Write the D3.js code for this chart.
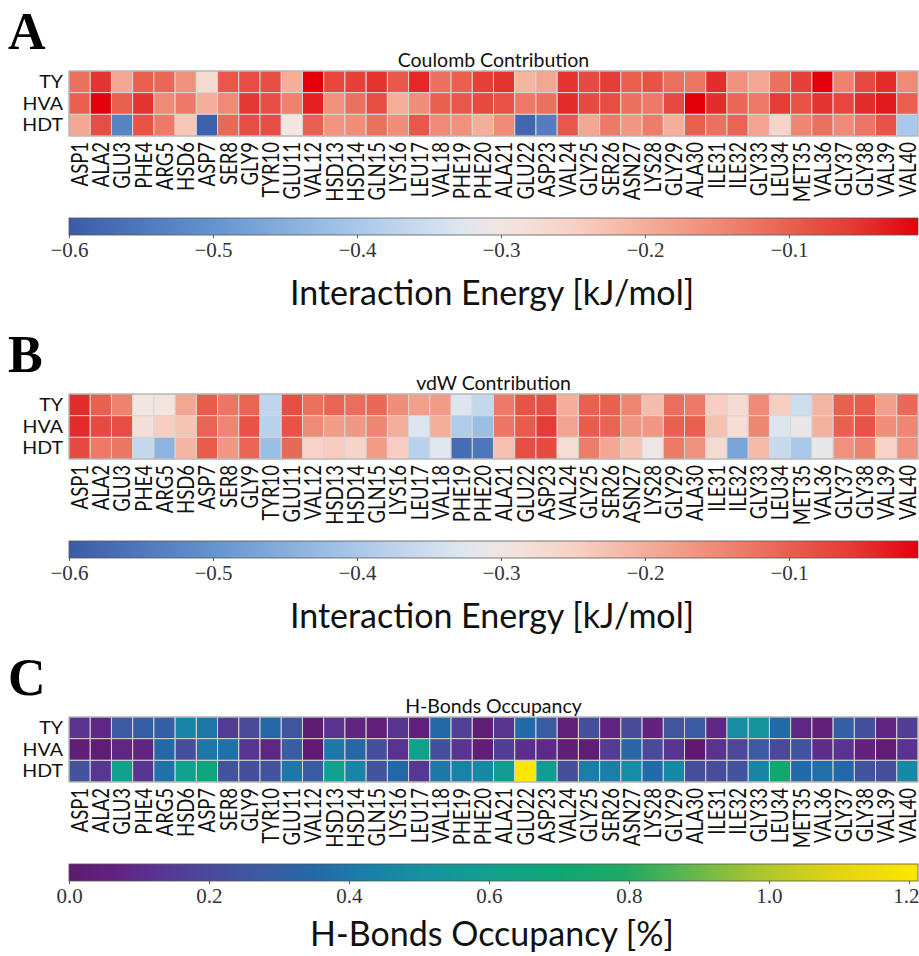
<!DOCTYPE html>
<html lang="en">
<head>
<meta charset="UTF-8">
<title>Interaction heatmaps</title>
<script src="https://cdn.jsdelivr.net/npm/d3@7"></script>
<style>
  body { margin: 0; background: white; }
  .sans { font-family: Lato, "DejaVu Sans", sans-serif; fill: #111; }
  .serif { font-family: "Liberation Serif", "DejaVu Serif", serif; }
</style>
</head>
<body>
<svg id="fig" width="919" height="956"></svg>
<script>
// residues along x, ligands along y
const residues = ["ASP1","ALA2","GLU3","PHE4","ARG5","HSD6","ASP7","SER8","GLY9","TYR10",
  "GLU11","VAL12","HSD13","HSD14","GLN15","LYS16","LEU17","VAL18","PHE19","PHE20",
  "ALA21","GLU22","ASP23","VAL24","GLY25","SER26","ASN27","LYS28","GLY29","ALA30",
  "ILE31","ILE32","GLY33","LEU34","MET35","VAL36","GLY37","GLY38","VAL39","VAL40"];
const ligands = ["TY", "HVA", "HDT"];

// Coulomb contribution [kJ/mol]
const coulombTY = [-0.12,-0.05,-0.19,-0.10,-0.11,-0.16,-0.27,-0.09,-0.08,-0.08,
  -0.20,-0.01,-0.07,-0.065,-0.05,-0.09,-0.04,-0.12,-0.10,-0.065,
  -0.05,-0.21,-0.19,-0.05,-0.075,-0.06,-0.10,-0.085,-0.12,-0.125,
  -0.045,-0.16,-0.19,-0.12,-0.065,-0.01,-0.14,-0.075,-0.045,-0.15];
const coulombHVA = [-0.10,-0.01,-0.10,-0.05,-0.15,-0.13,-0.20,-0.15,-0.055,-0.08,
  -0.14,-0.035,-0.16,-0.12,-0.08,-0.20,-0.155,-0.10,-0.09,-0.075,
  -0.085,-0.13,-0.12,-0.045,-0.075,-0.08,-0.12,-0.13,-0.075,-0.01,
  -0.045,-0.11,-0.13,-0.06,-0.085,-0.05,-0.07,-0.045,-0.03,-0.10];
const coulombHDT = [-0.19,-0.08,-0.53,-0.085,-0.13,-0.235,-0.59,-0.11,-0.08,-0.08,
  -0.30,-0.10,-0.165,-0.155,-0.12,-0.155,-0.09,-0.15,-0.16,-0.20,
  -0.15,-0.58,-0.54,-0.09,-0.19,-0.13,-0.17,-0.135,-0.20,-0.10,
  -0.12,-0.105,-0.185,-0.255,-0.145,-0.12,-0.15,-0.125,-0.085,-0.40];

// vdW contribution [kJ/mol]
const vdwTY = [-0.045,-0.10,-0.14,-0.30,-0.295,-0.19,-0.095,-0.125,-0.105,-0.37,
  -0.08,-0.12,-0.105,-0.115,-0.11,-0.155,-0.18,-0.175,-0.33,-0.365,
  -0.13,-0.085,-0.08,-0.20,-0.10,-0.10,-0.145,-0.22,-0.115,-0.13,
  -0.245,-0.27,-0.15,-0.245,-0.35,-0.21,-0.10,-0.095,-0.18,-0.11];
const vdwHVA = [-0.045,-0.075,-0.08,-0.28,-0.245,-0.23,-0.105,-0.145,-0.085,-0.38,
  -0.085,-0.15,-0.175,-0.17,-0.145,-0.20,-0.33,-0.20,-0.39,-0.42,
  -0.125,-0.095,-0.06,-0.185,-0.095,-0.105,-0.165,-0.17,-0.10,-0.10,
  -0.225,-0.275,-0.145,-0.33,-0.31,-0.205,-0.10,-0.085,-0.155,-0.145];
const vdwHDT = [-0.075,-0.13,-0.125,-0.365,-0.44,-0.21,-0.095,-0.17,-0.105,-0.42,
  -0.11,-0.25,-0.24,-0.255,-0.175,-0.245,-0.38,-0.325,-0.57,-0.55,
  -0.225,-0.08,-0.075,-0.275,-0.135,-0.19,-0.23,-0.305,-0.13,-0.16,
  -0.27,-0.47,-0.215,-0.36,-0.40,-0.315,-0.16,-0.14,-0.25,-0.16];

// H-bond occupancy [%]
const hbondTY = [0.12,0.08,0.27,0.30,0.30,0.45,0.40,0.15,0.20,0.35,
  0.25,0.01,0.12,0.07,0.04,0.13,0.04,0.35,0.17,0.02,
  0.12,0.36,0.28,0.04,0.22,0.07,0.20,0.06,0.25,0.28,
  0.08,0.48,0.52,0.36,0.08,0.04,0.30,0.22,0.07,0.16];
const hbondHVA = [0.03,0.02,0.08,0.07,0.35,0.22,0.40,0.38,0.13,0.08,
  0.28,0.01,0.40,0.34,0.22,0.12,0.62,0.22,0.13,0.03,
  0.16,0.11,0.09,0.03,0.02,0.15,0.33,0.20,0.13,0.00,
  0.12,0.19,0.27,0.19,0.24,0.10,0.12,0.06,0.02,0.12];
const hbondHDT = [0.23,0.14,0.60,0.13,0.38,0.60,0.67,0.24,0.22,0.24,
  0.40,0.28,0.60,0.45,0.24,0.35,0.14,0.40,0.44,0.47,
  0.58,1.213,0.58,0.22,0.42,0.42,0.48,0.36,0.47,0.22,
  0.21,0.24,0.45,0.72,0.36,0.37,0.35,0.24,0.22,0.47];

// colorbar ticks
const energyTicks = [-0.6, -0.5, -0.4, -0.3, -0.2, -0.1];
const hbondTicks = [0.0, 0.2, 0.4, 0.6, 0.8, 1.0, 1.2];

// colour maps
const energyColor = d3.scaleLinear()
  .domain([-0.6, -0.5, -0.4, -0.33, -0.3, -0.25, -0.2, -0.15, -0.1, -0.05, -0.0104])
  .range(["#3a5ba8", "#6394cf", "#a9c8ea", "#dde6f0", "#f1e6e2", "#f8d2c6",
          "#f4ae9a", "#ef8a76", "#e9604f", "#e43430", "#e3000b"])
  .clamp(true);
// viridis as it looks in the figure (a bit lighter than the stock one)
const hbondColor = d3.scaleLinear()
  .domain([0, 0.06, 0.12, 0.2, 0.28, 0.35, 0.42, 0.5, 0.6, 0.7, 0.8, 0.9, 1.0, 1.1, 1.213])
  .range(["#5f1a70", "#62227e", "#5a3290", "#4a4a9a", "#3a5ca2", "#2468a8", "#1a7ea8",
          "#1690a2", "#12a08e", "#0fa674", "#22aa62", "#6cb84a", "#b4c82a", "#e4d412", "#fde600"])
  .clamp(true);

const svg = d3.select("#fig");
svg.append("rect").attr("width", 919).attr("height", 956).attr("fill", "white");

const x = d3.scaleBand().domain(residues).range([69, 918]);
const y = d3.scaleBand().domain(ligands).range([71, 136]);

function drawPanel(top, letter, title, rows, color, domain, ticks, fmt, label, labelY, id) {
  const g = svg.append("g").attr("transform", `translate(0,${top})`);

  g.append("text")
    .attr("class", "serif")
    .attr("x", 8).attr("y", 49)
    .style("font-size", "52px").style("font-weight", "bold")
    .text(letter);

  g.append("text")
    .attr("class", "sans")
    .attr("x", 493.5).attr("y", 67)
    .attr("text-anchor", "middle")
    .style("font-size", "19.5px")
    .text(title);

  const cells = [];
  rows.forEach((vals, i) => vals.forEach((v, j) => cells.push({ lig: ligands[i], res: residues[j], v })));

  g.append("g").selectAll("rect")
    .data(cells)
    .enter().append("rect")
    .attr("x", d => x(d.res))
    .attr("y", d => y(d.lig))
    .attr("width", x.bandwidth())
    .attr("height", y.bandwidth())
    .attr("fill", d => color(d.v))
    .attr("stroke", "#d6d6d6")
    .attr("stroke-width", 1);

  g.append("rect")
    .attr("x", 69).attr("y", 71).attr("width", 849).attr("height", 65)
    .attr("fill", "none").attr("stroke", "#a8a8a8").attr("stroke-width", 1);

  // row labels
  g.append("g").selectAll("text")
    .data(ligands)
    .enter().append("text")
    .attr("class", "sans")
    .attr("text-anchor", "end")
    .attr("dy", "0.36em")
    .attr("transform", d => `translate(63,${y(d) + y.bandwidth() / 2}) scale(1.12,1)`)
    .style("font-size", "17.5px")
    .text(d => d);

  // column labels
  g.append("g").selectAll("text")
    .data(residues)
    .enter().append("text")
    .attr("class", "sans")
    .attr("text-anchor", "end")
    .attr("dy", "0.36em")
    .attr("transform", d => `translate(${x(d) + x.bandwidth() / 2},142) rotate(-90) scale(1,1.25)`)
    .style("font-size", "18.5px")
    .text(d => d);

  // colorbar
  const cb = d3.scaleLinear().domain(domain).range([69, 918]);
  const grad = svg.append("defs").append("linearGradient").attr("id", id);
  d3.range(0, 1.0001, 0.02).forEach(t => {
    grad.append("stop")
      .attr("offset", `${t * 100}%`)
      .attr("stop-color", color(domain[0] + t * (domain[1] - domain[0])));
  });
  g.append("rect")
    .attr("x", 69).attr("y", 218).attr("width", 849).attr("height", 17)
    .attr("fill", `url(#${id})`)
    .attr("stroke", "#555").attr("stroke-width", 0.8);

  const axis = g.append("g")
    .attr("transform", "translate(0,235)")
    .call(d3.axisBottom(cb).tickValues(ticks).tickSize(3).tickPadding(4).tickFormat(fmt));
  axis.select(".domain").remove();
  axis.selectAll("line").attr("stroke", "#555");
  axis.selectAll("text")
    .attr("class", "serif")
    .style("font-size", "21px")
    .attr("fill", "#333");
  // last label would run off the right edge
  axis.selectAll("text").filter(d => cb(d) > 900)
    .attr("text-anchor", "end")
    .attr("x", 918 - cb(ticks[ticks.length - 1]) + 1);

  g.append("text")
    .attr("class", "sans")
    .attr("x", 492).attr("y", labelY)
    .attr("text-anchor", "middle")
    .style("font-size", "34px")
    .text(label);
}

const energyFmt = d => "\u2212" + d3.format(".1f")(Math.abs(d));
drawPanel(0, "A", "Coulomb Contribution", [coulombTY, coulombHVA, coulombHDT],
  energyColor, [-0.6, -0.0104], energyTicks, energyFmt, "Interaction Energy [kJ/mol]", 305, "gradA");
drawPanel(323, "B", "vdW Contribution", [vdwTY, vdwHVA, vdwHDT],
  energyColor, [-0.6, -0.0104], energyTicks, energyFmt, "Interaction Energy [kJ/mol]", 305, "gradB");
drawPanel(646, "C", "H-Bonds Occupancy", [hbondTY, hbondHVA, hbondHDT],
  hbondColor, [0, 1.213], hbondTicks, d3.format(".1f"), "H-Bonds Occupancy [%]", 300, "gradC");
</script>
</body>
</html>
